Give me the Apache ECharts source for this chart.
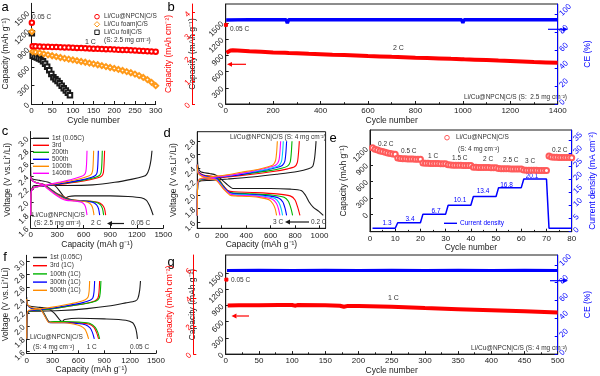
<!DOCTYPE html>
<html><head><meta charset="utf-8">
<script src="https://cdn.jsdelivr.net/npm/echarts@6/dist/echarts.min.js"></script>
<style>html,body{margin:0;padding:0;background:#fff}#main{width:600px;height:376px}</style>
</head><body><div id="main"></div>
<script>
// ---------- DATA ----------
// Panel a: [cycle, capacity mAh/g]
const aNPCN005 = [[1,1333]];
const aNPCN = [[3,948],[10,945],[20,942],[30,940],[40,937],[50,934],[60,932],[70,930],[80,927],[90,925],[100,922],[110,919],[120,916],[130,914],[140,911],[150,907],[160,904],[170,901],[180,898],[190,896],[200,893],[210,889],[220,886],[230,883],[240,880],[250,877],[260,874],[270,870],[280,866],[290,862],[300,858]];
const aFoam005 = [[1,1185]];
const aFoam = [[3,860],[10,850],[20,838],[30,822],[40,805],[50,790],[60,775],[70,762],[80,748],[90,735],[100,722],[110,710],[120,697],[130,684],[140,670],[150,657],[160,643],[170,628],[180,613],[190,598],[200,583],[210,566],[220,549],[230,531],[240,512],[250,490],[260,465],[270,435],[280,400],[290,355],[300,300]];
const aFoil005 = [[1,1158]];
const aFoil = [[3,790],[8,775],[13,760],[18,745],[23,728],[28,700],[33,660],[38,610],[43,555],[48,490],[53,440],[58,405],[63,375],[68,340],[73,300],[78,260],[83,220],[88,185],[93,145]];
// Panel b: 2 C, 2.5 mg cm-2
const bCap005 = [[1,1463]];
const bCap = [[3,950],[10,975],[20,990],[30,995],[50,990],[100,975],[150,965],[200,955],[250,948],[258,925],[266,945],[300,940],[350,930],[400,922],[450,912],[500,905],[550,897],[600,888],[650,880],[700,872],[750,865],[800,857],[850,850],[900,843],[950,835],[995,828],[1000,812],[1006,826],[1050,820],[1100,812],[1150,803],[1200,795],[1250,787],[1300,778],[1350,770],[1400,762]];
const bCE = [[2,94],[100,94.5],[200,94.3],[255,94.3],[260,90.5],[265,94.3],[400,94.5],[600,94.4],[800,94.5],[995,94.3],[1000,91],[1005,94.3],[1200,94.4],[1400,94.3]];
// Panel c: voltage profiles [capacity, V], 2.5 mg cm-2
const cDis1 = [[0,2.55],[3,2.40],[20,2.36],[100,2.34],[200,2.31],[280,2.25],[340,2.15],[380,2.08],[400,2.07],[430,2.09],[500,2.10],[700,2.10],[900,2.10],[1100,2.09],[1250,2.07],[1310,2.03],[1340,1.96],[1365,1.88],[1385,1.80]];
const cChg1 = [[0,1.80],[2,2.10],[10,2.20],[40,2.26],[150,2.26],[400,2.26],[700,2.27],[950,2.31],[1150,2.36],[1270,2.40],[1310,2.43],[1340,2.52],[1360,2.65],[1372,2.80]];
const cDis3 = [[0,2.40],[10,2.35],[50,2.31],[110,2.29],[160,2.27],[230,2.20],[320,2.12],[420,2.06],[520,2.03],[650,2.02],[760,2.00],[810,1.96],[835,1.90],[848,1.80]];
const cChg3 = [[0,1.80],[3,2.12],[15,2.20],[60,2.24],[200,2.26],[400,2.29],[600,2.33],[760,2.38],[805,2.41],[822,2.46],[830,2.60],[836,2.80]];
const cDis200 = [[0,2.40],[10,2.35],[50,2.31],[110,2.29],[155,2.27],[225,2.20],[310,2.12],[405,2.06],[500,2.03],[630,2.02],[740,2.00],[790,1.96],[812,1.90],[825,1.80]];
const cChg200 = [[0,1.80],[3,2.12],[15,2.20],[60,2.24],[200,2.26],[400,2.30],[580,2.34],[735,2.39],[780,2.42],[797,2.47],[805,2.60],[810,2.80]];
const cDis500 = [[0,2.40],[10,2.35],[50,2.31],[105,2.29],[150,2.27],[220,2.20],[300,2.12],[390,2.06],[470,2.03],[600,2.02],[700,2.00],[745,1.96],[767,1.90],[780,1.80]];
const cChg500 = [[0,1.80],[3,2.12],[15,2.20],[60,2.24],[200,2.26],[380,2.30],[550,2.34],[690,2.39],[735,2.42],[752,2.47],[760,2.60],[765,2.80]];
const cDis1000 = [[0,2.40],[10,2.35],[50,2.31],[100,2.29],[145,2.27],[210,2.20],[290,2.12],[370,2.06],[440,2.03],[560,2.02],[645,2.00],[685,1.96],[703,1.90],[716,1.80]];
const cChg1000 = [[0,1.80],[3,2.12],[15,2.20],[60,2.24],[200,2.27],[360,2.31],[510,2.35],[640,2.40],[682,2.43],[699,2.48],[707,2.60],[712,2.80]];
const cDis1400 = [[0,2.40],[10,2.35],[45,2.31],[95,2.29],[140,2.27],[200,2.20],[275,2.12],[345,2.06],[405,2.03],[500,2.02],[575,2.00],[610,1.96],[625,1.90],[637,1.80]];
const cChg1400 = [[0,1.80],[3,2.12],[15,2.20],[60,2.24],[180,2.27],[320,2.31],[450,2.35],[570,2.40],[608,2.43],[624,2.48],[632,2.60],[637,2.80]];
// Panel d: rate profiles, 4 mg cm-2
const dDis02 = [[0,2.75],[4,2.45],[25,2.35],[100,2.32],[150,2.30],[200,2.23],[250,2.15],[290,2.10],[400,2.10],[600,2.10],[760,2.09],[850,2.07],[885,2.00],[915,1.90],[950,1.82],[995,1.76],[1031,1.70]];
const dChg02 = [[0,1.70],[3,2.15],[20,2.21],[100,2.22],[250,2.24],[450,2.27],[650,2.31],[820,2.35],[910,2.39],[945,2.43],[960,2.55],[968,2.70],[972,2.80]];
const dDis05 = [[0,2.45],[8,2.35],[50,2.30],[120,2.28],[165,2.26],[210,2.15],[250,2.07],[300,2.05],[450,2.04],[650,2.02],[760,1.99],[800,1.93],[825,1.80],[840,1.70]];
const dChg05 = [[0,1.70],[3,2.15],[20,2.22],[100,2.24],[250,2.27],[450,2.31],[620,2.35],[740,2.39],[795,2.42],[818,2.48],[828,2.62],[835,2.80]];
const dDis1 = [[0,2.45],[8,2.34],[50,2.29],[120,2.27],[165,2.25],[215,2.13],[255,2.05],[300,2.03],[450,2.02],[620,2.00],[710,1.97],[745,1.91],[767,1.80],[780,1.70]];
const dChg1 = [[0,1.70],[3,2.15],[20,2.22],[100,2.25],[250,2.28],[420,2.32],[580,2.36],[690,2.40],[738,2.43],[760,2.49],[769,2.62],[775,2.80]];
const dDis15 = [[0,2.45],[8,2.34],[50,2.29],[115,2.26],[160,2.24],[215,2.12],[260,2.04],[310,2.02],[450,2.01],[580,1.99],[665,1.96],[700,1.90],[719,1.80],[731,1.70]];
const dChg15 = [[0,1.70],[3,2.16],[20,2.23],[100,2.25],[250,2.28],[400,2.32],[550,2.37],[650,2.41],[695,2.44],[716,2.50],[725,2.63],[731,2.80]];
const dDis2 = [[0,2.45],[8,2.33],[50,2.28],[115,2.25],[160,2.23],[215,2.11],[262,2.03],[310,2.01],[450,2.00],[560,1.98],[635,1.95],[668,1.89],[686,1.80],[698,1.70]];
const dChg2 = [[0,1.70],[3,2.16],[20,2.23],[100,2.26],[250,2.29],[390,2.33],[530,2.37],[625,2.41],[668,2.44],[689,2.50],[698,2.63],[704,2.80]];
const dDis25 = [[0,2.45],[8,2.33],[50,2.28],[110,2.25],[155,2.23],[215,2.10],[265,2.02],[310,2.00],[440,1.99],[545,1.97],[615,1.94],[647,1.88],[664,1.80],[676,1.70]];
const dChg25 = [[0,1.70],[3,2.17],[20,2.24],[100,2.26],[240,2.29],[380,2.33],[515,2.38],[605,2.42],[646,2.45],[667,2.51],[676,2.63],[682,2.80]];
const dDis3 = [[0,2.45],[8,2.32],[50,2.27],[110,2.24],[155,2.22],[215,2.09],[268,2.00],[310,1.99],[430,1.98],[525,1.96],[590,1.93],[620,1.87],[637,1.80],[649,1.70]];
const dChg3 = [[0,1.70],[3,2.17],[20,2.24],[100,2.27],[230,2.30],[360,2.34],[495,2.38],[580,2.42],[620,2.45],[640,2.51],[649,2.63],[655,2.80]];
// Panel e: rate capability (cycles 1..80) and current density
const eCap = [1210,1185,1168,1152,1140,1128,1117,1107,1098,1090,
  1025,1015,1012,1010,1008,1006,1004,1003,1001,1000,
  935,930,928,926,925,924,922,921,920,919,
  900,896,894,892,891,890,889,888,887,886,
  858,855,853,852,851,850,849,848,847,846,
  832,830,829,828,827,826,825,824,823,822,
  805,803,802,801,800,799,798,797,796,795,
  1062,1040,1037,1036,1035,1034,1033,1032,1031,1030];
const eCurrent = [[1,1.3],[10,1.3],[11,3.4],[20,3.4],[21,6.7],[30,6.7],[31,10.1],[40,10.1],[41,13.4],[50,13.4],[51,16.8],[60,16.8],[61,20.1],[70,20.1],[71,1.3],[80,1.3]];
const eRates = ['0.2 C','0.5 C','1 C','1.5 C','2 C','2.5 C','3 C','0.2 C'];
const eCurrentLabels = ['1.3','3.4','6.7','10.1','13.4','16.8','20.1'];
// Panel f: 1 C profiles, 4 mg cm-2
const fDis1 = [[0,2.45],[3,2.33],[30,2.31],[150,2.29],[250,2.27],[320,2.20],[380,2.10],[410,2.07],[440,2.10],[600,2.12],[900,2.11],[1150,2.09],[1230,2.05],[1260,1.98],[1275,1.90],[1285,1.80]];
const fChg1 = [[0,1.80],[3,2.15],[15,2.22],[100,2.23],[400,2.24],[700,2.27],[950,2.31],[1150,2.36],[1260,2.39],[1290,2.43],[1310,2.55],[1320,2.70]];
const fDis3 = [[0,2.40],[8,2.33],[50,2.28],[130,2.26],[180,2.24],[230,2.12],[265,2.06],[320,2.06],[450,2.06],[600,2.05],[720,2.03],[780,1.98],[810,1.90],[834,1.80]];
const fChg3 = [[0,1.80],[3,2.15],[20,2.22],[120,2.24],[300,2.27],[500,2.31],[680,2.35],[790,2.39],[825,2.43],[838,2.52],[846,2.70]];
const fDis100 = [[0,2.40],[8,2.33],[50,2.28],[130,2.26],[180,2.24],[230,2.12],[265,2.06],[320,2.07],[450,2.07],[610,2.06],[735,2.04],[795,1.98],[825,1.90],[846,1.80]];
const fChg100 = [[0,1.80],[3,2.15],[20,2.22],[120,2.24],[300,2.27],[500,2.31],[690,2.35],[805,2.39],[840,2.43],[853,2.52],[861,2.70]];
const fDis300 = [[0,2.40],[8,2.33],[50,2.28],[130,2.26],[175,2.24],[230,2.11],[268,2.05],[320,2.05],[450,2.05],[580,2.04],[680,2.02],[735,1.97],[762,1.90],[784,1.80]];
const fChg300 = [[0,1.80],[3,2.16],[20,2.23],[120,2.25],[300,2.28],[480,2.32],[640,2.36],[735,2.40],[768,2.44],[781,2.53],[788,2.70]];
const fDis500 = [[0,2.42],[8,2.34],[50,2.29],[120,2.27],[165,2.25],[215,2.14],[250,2.06],[300,2.05],[430,2.05],[540,2.03],[625,2.00],[675,1.95],[700,1.88],[718,1.80]];
const fChg500 = [[0,1.80],[3,2.17],[20,2.24],[110,2.26],[280,2.29],[450,2.33],[590,2.37],[680,2.41],[712,2.45],[724,2.54],[730,2.70]];
// Panel g: 1 C, 4 mg cm-2
const gCap005 = [[1,1380]];
const gCap = [[3,900],[20,903],[50,905],[80,908],[100,910],[104,897],[108,908],[150,903],[172,896],[178,878],[184,893],[200,890],[250,878],[300,852],[350,832],[400,812],[450,792],[500,770]];
const gCE = [[2,93.5],[50,93.8],[100,93.7],[150,93.8],[200,93.7],[250,93.8],[300,93.7],[350,93.8],[400,93.7],[450,93.8],[500,93.6]];
// tick values
const vTicks = [1.6,1.8,2.0,2.2,2.4,2.6,2.8,3.0];
const dTicks = [1.6,1.8,2.0,2.2,2.4,2.6,2.8];
const capTicksA = [0,300,600,900,1200,1500];
const capTicksE = [0,300,600,900,1200];
const ceTicks = [0,20,40,60,80,100];
const arealTicksB = [0,1,2,3,4];
const arealTicksG = [0,2,4,6];
const currentTicks = [0,5,10,15,20,25,30,35];
const dCapTicks = [0,200,400,600,800,1000];

// ---------- STYLE ----------
const F = "'Liberation Sans', Arial, sans-serif";
const K = '#1a1a1a', R = '#ff0000', B = '#0000ff', O = '#ff9a1a', G = '#00b400', M = '#ff00ff', C = '#00c8ff', OR = '#ff8c00', PINK = '#ff5a5a';
const chart = echarts.init(document.getElementById('main'));

function base(color) {
  return {
    axisLine: {show: true, onZero: false, lineStyle: {color, width: 1}},
    axisTick: {show: true, inside: true, length: 3, lineStyle: {color}},
    axisLabel: {color, fontSize: 8, fontFamily: F, margin: 3, formatter: v => String(v), showMinLabel: true, showMaxLabel: true},
    splitLine: {show: false},
    nameLocation: 'middle',
    nameTextStyle: {color, fontSize: 8.5, fontFamily: F}
  };
}
function xAx(gi, min, max, interval, name, gap, minor, ticks) {
  const a = base(K);
  Object.assign(a, {type: 'value', gridIndex: gi, min, max, interval, name, nameGap: gap});
  if (minor) a.minorTick = {show: true, splitNumber: 2, length: 1.8, lineStyle: {color: K}};
  if (ticks) { a.axisLabel.customValues = ticks; a.axisTick.customValues = ticks; }
  return a;
}
function yAx(gi, min, max, opt) {
  const color = opt.color || K;
  const a = base(color);
  Object.assign(a, {type: 'value', gridIndex: gi, min, max, name: opt.name, nameGap: opt.gap,
    position: opt.position || 'left', offset: opt.offset || 0});
  a.axisLabel.rotate = 45;
  a.axisLabel.customValues = opt.ticks; a.axisTick.customValues = opt.ticks;
  if (opt.fmt) a.axisLabel.formatter = opt.fmt;
  return a;
}
const f1 = v => v.toFixed(1);

const grid = [
  {left: 28.3, top: 3.3, width: 127.4, height: 100.7},            // a
  {left: 225.7, top: 4, width: 347.6, height: 100, show: true, borderColor: K, borderWidth: 1}, // b
  {left: 30.7, top: 131.5, width: 132.6, height: 96.5},           // c
  {left: 197.3, top: 131.7, width: 128.3, height: 96.6, show: true, borderColor: K, borderWidth: 1}, // d
  {left: 370, top: 130, width: 201.7, height: 101.7, show: true, borderColor: K, borderWidth: 1}, // e
  {left: 26.7, top: 255.3, width: 129.3, height: 98},             // f
  {left: 225.7, top: 255, width: 348.3, height: 100, show: true, borderColor: K, borderWidth: 1}  // g
];
const xAxis = [
  xAx(0, 0, 300, 50, 'Cycle number', 9.5, true),
  xAx(1, 0, 1400, 200, 'Cycle number', 10, true),
  xAx(2, 0, 1500, 300, 'Capacity (mAh g\u207B\u00B9)', 7, false),
  xAx(3, 0, 1050, 200, 'Capacity (mAh g\u207B\u00B9)', 7, false, dCapTicks),
  xAx(4, 0, 80, 10, 'Cycle number', 9.5, true),
  xAx(5, 0, 1500, 300, 'Capacity (mAh g\u207B\u00B9)', 7, false),
  xAx(6, 0, 500, 50, 'Cycle number', 10, true)
];
const yAxis = [
  yAx(0, 0, 1650, {ticks: capTicksA, name: 'Capacity (mAh g\u207B\u00B9)', gap: 16}),                   // 0 a
  yAx(1, 0, 1850, {ticks: capTicksA, name: 'Capacity (mAh g\u207B\u00B9)', gap: 16}),                   // 1 b
  yAx(1, 0, 4.38, {ticks: arealTicksB, color: R, offset: 33.7, name: 'Capacity (mAh cm\u207B\u00B2)', gap: 11}), // 2 b red
  yAx(1, 0, 112, {ticks: ceTicks, color: B, position: 'right', name: 'CE (%)', gap: 17}),              // 3 b CE
  yAx(2, 1.6, 3.1, {ticks: vTicks, fmt: f1, name: 'Voltage (V vs.Li\u207A/Li)', gap: 19}),               // 4 c
  yAx(3, 1.51, 2.94, {ticks: dTicks, fmt: f1, name: 'Voltage (V vs.Li\u207A/Li)', gap: 19}),             // 5 d
  yAx(4, -316, 1533, {ticks: capTicksE, name: 'Capacity (mAh g\u207B\u00B9)', gap: 16}),                 // 6 e
  yAx(4, 0, 38.8, {ticks: currentTicks, color: B, position: 'right', name: 'Current density (mA cm\u207B\u00B2)', gap: 16}), // 7 e right
  yAx(5, 1.575, 3.1, {ticks: vTicks, fmt: f1, name: 'Voltage (V vs.Li\u207A/Li)', gap: 15}),             // 8 f
  yAx(6, 0, 1836, {ticks: capTicksA, name: 'Capacity (mAh g\u207B\u00B9)', gap: 16}),                    // 9 g
  yAx(6, 0, 7.06, {ticks: arealTicksG, color: R, offset: 32.4, name: 'Capacity (mAh cm\u207B\u00B2)', gap: 11}), // 10 g red
  yAx(6, 0, 111, {ticks: ceTicks, color: B, position: 'right', name: 'CE (%)', gap: 17})               // 11 g CE
];

const series = [];
function pts(xi, yi, data, color, symbol, size, lw) {
  series.push({type: 'line', xAxisIndex: xi, yAxisIndex: yi, data, symbol, symbolSize: size,
    showSymbol: symbol !== 'none', lineStyle: {color, width: lw || 1, opacity: lw ? 1 : 0},
    itemStyle: {color, borderColor: color, borderWidth: 1}, silent: true, animation: false, z: 3});
}
function curve(xi, yi, data, color) {
  series.push({type: 'line', xAxisIndex: xi, yAxisIndex: yi, data, symbol: 'none', smooth: 0.25,
    lineStyle: {color, width: 1.1}, silent: true, animation: false});
}
// a
pts(0, 0, aFoil, K, 'emptyRect', 4.5, 0.8);
pts(0, 0, aFoam, O, 'emptyDiamond', 5, 0.8);
pts(0, 0, aNPCN, R, 'emptyCircle', 4.5, 0.8);
pts(0, 0, aFoil005, K, 'emptyRect', 4.5, 0);
pts(0, 0, aFoam005, O, 'emptyDiamond', 5, 0);
pts(0, 0, aNPCN005, R, 'emptyCircle', 4.5, 0);
// b
pts(1, 1, bCap, R, 'none', 0, 4);
pts(1, 1, bCap005, R, 'rect', 3, 0);
pts(1, 3, bCE, B, 'none', 0, 3.5);
// c
[[cDis1, cChg1, K], [cDis3, cChg3, R], [cDis200, cChg200, G], [cDis500, cChg500, B], [cDis1000, cChg1000, OR], [cDis1400, cChg1400, M]]
  .forEach(([d, c, col]) => { curve(2, 4, d, col); curve(2, 4, c, col); });
// d
[[dDis02, dChg02, K], [dDis05, dChg05, R], [dDis1, dChg1, G], [dDis15, dChg15, B], [dDis2, dChg2, C], [dDis25, dChg25, M], [dDis3, dChg3, OR]]
  .forEach(([d, c, col]) => { curve(3, 5, d, col); curve(3, 5, c, col); });
// e
series.push({type: 'line', xAxisIndex: 4, yAxisIndex: 7, data: eCurrent, symbol: 'none', lineStyle: {color: B, width: 1.5}, silent: true, animation: false});
pts(4, 6, eCap.map((v, i) => [i + 1, v]), PINK, 'emptyCircle', 5, 0);
// f
[[fDis1, fChg1, K], [fDis3, fChg3, R], [fDis100, fChg100, G], [fDis300, fChg300, B], [fDis500, fChg500, OR]]
  .forEach(([d, c, col]) => { curve(5, 8, d, col); curve(5, 8, c, col); });
// g
pts(6, 9, gCap, R, 'none', 0, 4);
pts(6, 9, gCap005, R, 'rect', 3, 0);
pts(6, 11, gCE, B, 'none', 0, 3);

// ---------- ANNOTATIONS ----------
const g = [];
function txt(x, y, text, size, color, align, weight) {
  g.push({type: 'text', x, y, silent: true, style: {text, fill: color || '#222', font: (weight || 'normal') + ' ' + size + 'px ' + F,
    align: align || 'left', verticalAlign: 'middle'}});
}
function arrow(x1, y1, x2, y2, color) {
  const ang = Math.atan2(y2 - y1, x2 - x1), L = 5, W = 2.4;
  const bx = x2 - L * Math.cos(ang), by = y2 - L * Math.sin(ang);
  const px = -Math.sin(ang) * W, py = Math.cos(ang) * W;
  g.push({type: 'line', silent: true, shape: {x1, y1, x2: bx, y2: by}, style: {stroke: color, lineWidth: 1.2}});
  g.push({type: 'polygon', silent: true, shape: {points: [[x2, y2], [bx + px, by + py], [bx - px, by - py]]}, style: {fill: color}});
}
function legLine(x, y, color, text, len) {
  g.push({type: 'line', silent: true, shape: {x1: x, y1: y, x2: x + len, y2: y}, style: {stroke: color, lineWidth: 1.4}});
  txt(x + len + 3, y, text, 6.5, '#333');
}
// panel letters
[['a', 5, 7], ['b', 171, 7], ['c', 5, 131], ['d', 167, 133], ['e', 333, 138], ['f', 5, 257], ['g', 171, 262]]
  .forEach(([t, x, y]) => txt(x, y, t, 13, '#000', 'center'));
// a
g.push({type: 'circle', silent: true, shape: {cx: 97, cy: 16.7, r: 2.3}, style: {fill: 'none', stroke: R, lineWidth: 1}});
g.push({type: 'polygon', silent: true, shape: {points: [[97, 21.6], [99.7, 24.3], [97, 27], [94.3, 24.3]]}, style: {fill: 'none', stroke: O, lineWidth: 1}});
g.push({type: 'rect', silent: true, shape: {x: 94.8, y: 30.1, width: 4.4, height: 4.4}, style: {fill: 'none', stroke: K, lineWidth: 1}});
txt(104, 16.7, 'Li/Cu@NPCN|C/S', 6.5, '#333');
txt(104, 24.3, 'Li/Cu foam|C/S', 6.5, '#333');
txt(104, 32.3, 'Li/Cu foil|C/S', 6.5, '#333');
txt(104, 40.7, '(S: 2.5 mg cm\u207B\u00B2)', 6.5, '#333');
txt(32, 17, '0.05 C', 6.5, '#333');
txt(85, 41.7, '1 C', 7, '#333');
// b
txt(230, 29, '0.05 C', 6.5, '#333');
txt(393, 48, '2 C', 7, '#333');
txt(567, 97, 'Li/Cu@NPCN|C/S (S:  2.5 mg cm\u207B\u00B2)', 6.5, '#333', 'right');
arrow(246, 64.3, 227, 64.3, R);
arrow(548, 29.3, 568, 29.3, B);
// c
['1st (0.05C)', '3rd', '200th', '500th', '1000th', '1400th'].forEach((t, i) =>
  legLine(33, 138.3 + i * 7, [K, R, G, B, OR, M][i], t, 16));
txt(32, 215, 'Li/Cu@NPCN|C/S', 6.5, '#333');
txt(34, 223.7, '(S: 2.5 mg cm\u207B\u00B2)', 6.5, '#333');
txt(91, 223.5, '2 C', 6.5, '#333');
arrow(124, 223.5, 107, 223.5, K);
txt(131, 223.5, '0.05 C', 6.5, '#333');
// d
txt(230, 137.7, 'Li/Cu@NPCN|C/S (S: 4 mg cm\u207B\u00B2)', 6.5, '#333');
txt(273, 222, '3 C', 6.5, '#333');
arrow(309, 222, 285, 222, K);
txt(311, 222, '0.2 C', 6.5, '#333');
// e
g.push({type: 'circle', silent: true, shape: {cx: 447, cy: 137.7, r: 2.3}, style: {fill: 'none', stroke: PINK, lineWidth: 1}});
txt(456, 137.7, 'Li/Cu@NPCN|C/S', 6.5, '#333');
txt(458, 149, '(S: 4 mg cm\u207B\u00B2)', 6.5, '#333');
[[378, 144], [401, 151], [428, 156.5], [452, 158], [483, 159.5], [503, 160], [525, 161.5], [552, 150]]
  .forEach(([x, y], i) => txt(x, y, eRates[i], 6.5, '#333'));
[[387, 223], [410, 219], [436, 211], [460, 200.5], [483, 191.5], [506.5, 185], [532, 176.5]]
  .forEach(([x, y], i) => txt(x, y, eCurrentLabels[i], 6.5, B, 'center'));
g.push({type: 'line', silent: true, shape: {x1: 444, y1: 223.3, x2: 457, y2: 223.3}, style: {stroke: B, lineWidth: 1.4}});
txt(460, 223.3, 'Current density', 6.5, B);
// f
['1st (0.05C)', '3rd (1C)', '100th (1C)', '300th (1C)', '500th (1C)'].forEach((t, i) =>
  legLine(33, 257.5 + i * 8.2, [K, R, G, B, OR][i], t, 14));
txt(30, 337.3, 'Li/Cu@NPCN|C/S', 6.5, '#333');
txt(33, 347.7, '(S: 4 mg cm\u207B\u00B2)', 6.5, '#333');
txt(86.7, 347.3, '1 C', 6.5, '#333');
txt(130, 347.3, '0.05 C', 6.5, '#333');
// g
txt(231, 280, '0.05 C', 6.5, '#333');
txt(388, 298.3, '1 C', 7, '#333');
txt(567, 348.3, 'Li/Cu@NPCN|C/S (S: 4 mg cm\u207B\u00B2)', 6.5, '#333', 'right');
arrow(249, 316, 231.5, 316, R);
arrow(550, 280.7, 568, 280.7, B);

chart.setOption({animation: false, textStyle: {fontFamily: F}, grid, xAxis, yAxis, series, graphic: g});
</script></body></html>
